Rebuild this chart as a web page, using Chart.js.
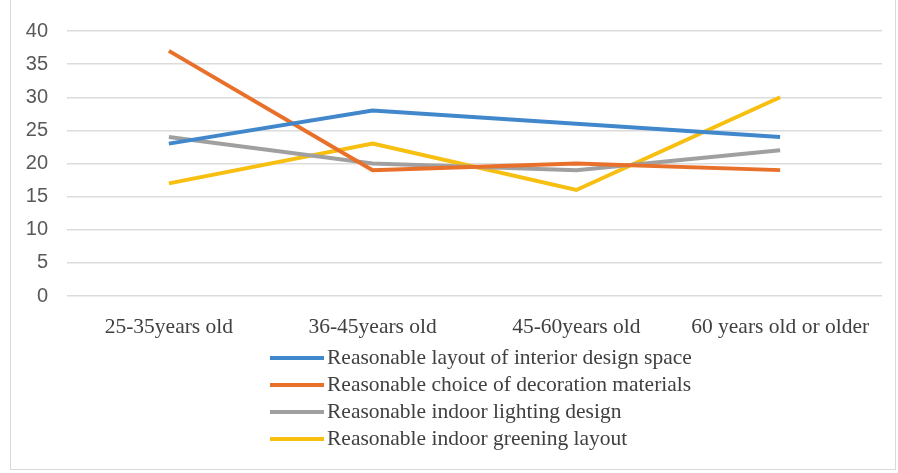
<!DOCTYPE html>
<html>
<head>
<meta charset="utf-8">
<script src="https://cdn.jsdelivr.net/npm/chart.js@4"></script>
<style>
  body { margin: 0; background: #fff; }
  #wrap { position: relative; width: 898px; height: 473px; }
  #frame { position: absolute; left: 10px; top: -1px; width: 886px; height: 471px; border: 1px solid #d9d9d9; box-sizing: border-box; }
  #chartBox { position: absolute; left: 0; top: 0; width: 898px; height: 345px; }
  #legend { position: absolute; left: 270px; top: 344px; font-family: "Liberation Serif", "Times New Roman", serif; font-size: 21.5px; color: #404040; }
  .item { height: 27px; display: flex; align-items: center; }
  .swatch { width: 54px; height: 4px; margin-right: 3px; }
</style>
</head>
<body>
<div id="wrap">
  <div id="frame"></div>
  <div id="chartBox"><canvas id="chart"></canvas></div>
  <div id="legend"></div>
</div>
<script>
const ageGroups = ['25-35years old', '36-45years old', '45-60years old', '60 years old or older'];
const seriesNames = [
  'Reasonable layout of interior design space',
  'Reasonable choice of decoration materials',
  'Reasonable indoor lighting design',
  'Reasonable indoor greening layout'
];
const layoutSpace = [23, 28, 26, 24];
const decorationMaterials = [37, 19, 20, 19];
const lightingDesign = [24, 20, 19, 22];
const greeningLayout = [17, 23, 16, 30];
const yTicks = [0, 5, 10, 15, 20, 25, 30, 35, 40];

const colors = ['#4187cc', '#e8702a', '#a0a0a0', '#f7bf10'];
const values = [layoutSpace, decorationMaterials, lightingDesign, greeningLayout];

const ctx = document.getElementById('chart').getContext('2d');
const chart = new Chart(ctx, {
    type: 'line',
    data: {
        labels: ageGroups,
        datasets: values.map((data, i) => ({
            label: seriesNames[i],
            data: data,
            borderColor: colors[i],
            backgroundColor: colors[i],
            borderWidth: 4,
            pointRadius: 0,
            tension: 0
        }))
    },
    options: {
        responsive: true,
        maintainAspectRatio: false,
        animation: false,
        layout: { padding: { left: 0, right: 16, top: 31, bottom: 0 } },
        plugins: {
            legend: { display: false },
            tooltip: { enabled: false }
        },
        scales: {
            x: {
                offset: true,
                grid: { display: false, drawTicks: false },
                border: { display: false },
                ticks: {
                    padding: 18,
                    color: '#404040',
                    maxRotation: 0,
                    font: { family: '"Liberation Serif", "Times New Roman", serif', size: 21.5 }
                },
                afterFit: scale => { scale.height = 49; }
            },
            y: {
                min: 0,
                max: 40,
                afterBuildTicks: scale => { scale.ticks = yTicks.map(v => ({ value: v })); },
                grid: { color: '#dcdcdc', lineWidth: 1.5, drawTicks: false },
                border: { display: false },
                ticks: {
                    padding: 19,
                    color: '#595959',
                    font: { family: '"Liberation Sans", Arial, sans-serif', size: 20 }
                },
                afterFit: scale => { scale.width = 67; }
            }
        }
    }
});

// legend as a plain vertical list under the chart
const legend = document.getElementById('legend');
legend.innerHTML = seriesNames.map((name, i) =>
    `<div class="item"><span class="swatch" style="background:${colors[i]}"></span>${name}</div>`
).join('');
</script>
</body>
</html>
